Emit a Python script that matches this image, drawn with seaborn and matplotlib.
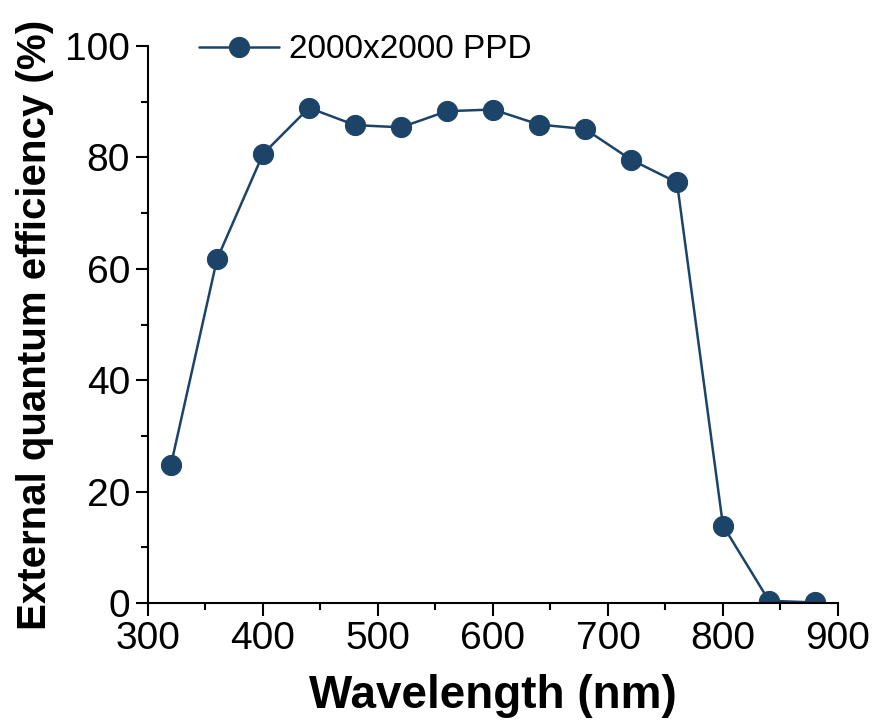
import matplotlib
matplotlib.use('Agg')
import matplotlib.pyplot as plt
from matplotlib.ticker import MultipleLocator
import seaborn as sns
import pandas as pd

# данные
wavelength = [320, 360, 400, 440, 480, 520, 560, 600, 640, 680, 720, 760, 800, 840, 880]
eqe = [24.8, 61.7, 80.6, 88.9, 85.8, 85.4, 88.3, 88.6, 85.9, 85.1, 79.6, 75.5, 13.9, 0.4, 0.1]
series_name = '2000x2000 PPD'

COLOR = '#1c4468'

sns.set_style('ticks')
plt.rcParams['font.family'] = ['Liberation Sans', 'DejaVu Sans']
plt.rcParams['text.color'] = 'black'
plt.rcParams['axes.labelcolor'] = 'black'

df = pd.DataFrame({'Wavelength': wavelength, 'EQE': eqe})

fig = plt.figure(figsize=(8.74, 7.28), dpi=100)
ax = fig.add_axes([0.1693, 0.1717, 0.7895, 0.7651])

sns.lineplot(data=df, x='Wavelength', y='EQE', ax=ax, color=COLOR,
             marker='o', markersize=14.5, markeredgecolor=COLOR,
             linewidth=1.8, label=series_name)

ax.set_xlim(300, 900)
ax.set_ylim(0, 100)
ax.xaxis.set_major_locator(MultipleLocator(100))
ax.xaxis.set_minor_locator(MultipleLocator(50))
ax.yaxis.set_major_locator(MultipleLocator(20))
ax.yaxis.set_minor_locator(MultipleLocator(10))

for side in ['top', 'right']:
    ax.spines[side].set_visible(False)
for side in ['left', 'bottom']:
    ax.spines[side].set_linewidth(1.5)
    ax.spines[side].set_color('black')

ax.tick_params(which='major', direction='out', length=9, width=1.5,
               labelsize=28, colors='black', labelcolor='black', pad=4)
ax.tick_params(which='minor', direction='out', length=5, width=1.5, colors='black')

ax.set_xlabel('Wavelength (nm)', fontsize=33, fontweight='bold', labelpad=12)
ax.set_ylabel('External quantum efficiency (%)', fontsize=29, fontweight='bold', labelpad=8)

leg = ax.legend(loc='upper left', bbox_to_anchor=(0.03, 1.075), frameon=False,
                fontsize=24, handlelength=2.4, handletextpad=0.3, markerscale=1.0)

plt.savefig('out.png', dpi=100)
plt.close()
